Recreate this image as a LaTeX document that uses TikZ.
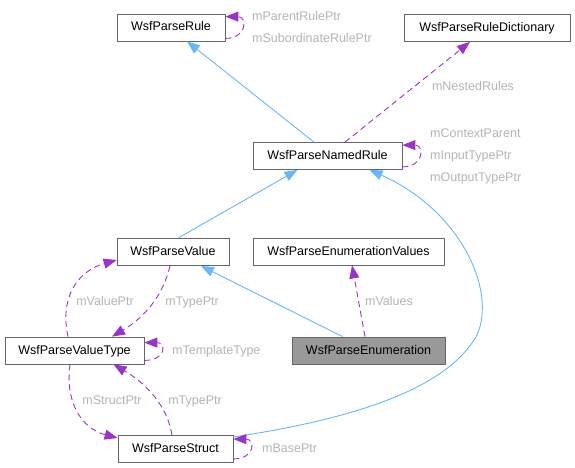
\documentclass[tikz,border=0pt]{standalone}
\usepackage{fontspec}
\setmainfont{Liberation Sans}
\usetikzlibrary{arrows.meta}

\definecolor{edgeblue}{HTML}{63B8FF}
\definecolor{edgepurple}{HTML}{9A32CD}
\definecolor{lblgray}{HTML}{B4B4B4}
\definecolor{boxgray}{HTML}{666666}
\definecolor{focusfill}{HTML}{999999}

\begin{document}
\begin{tikzpicture}[x=1pt, y=-1pt, >={Triangle[length=13pt,width=10pt]},
  cls/.style={draw=boxgray, line width=0.8pt, fill=white, minimum height=27pt,
    inner sep=0pt, text height=9.5pt, text depth=2.5pt,
    font=\fontsize{12.5}{14}\selectfont},
  focus/.style={cls, fill=focusfill},
  inherit/.style={edgeblue, line width=0.9pt, ->},
  usage/.style={edgepurple, line width=0.9pt, dash pattern=on 6pt off 4pt, ->},
  lbl/.style={lblgray, inner sep=0pt, text height=9.5pt, text depth=2.5pt,
    font=\fontsize{12.5}{14}\selectfont}]%

\useasboundingbox (0,0) rectangle (575,468);

\node [cls, minimum width=108pt] (rule) at (171,27.5) {WsfParseRule};
\node [cls, minimum width=166pt] (dict) at (487,28) {WsfParseRuleDictionary};
\node [cls, minimum width=149pt] (named) at (327.5,156) {WsfParseNamedRule};
\node [cls, minimum width=112pt] (value) at (173,252) {WsfParseValue};
\node [cls, minimum width=191pt] (enumvals) at (348.5,251.5) {WsfParseEnumerationValues};
\node [cls, minimum width=139pt] (valtype) at (74.5,350.5) {WsfParseValueType};
\node [focus, minimum width=153pt] (enum) at (368.5,350.5) {WsfParseEnumeration};
\node [cls, minimum width=115pt] (struct) at (175.5,449) {WsfParseStruct};

% inheritance
\draw [inherit] ([xshift=-13.5pt]named.north) -- ([xshift=16pt]rule.south);
\draw [inherit] ([xshift=5pt]value.north) -- ([xshift=-30pt]named.south);
\draw [inherit] ([xshift=-26pt]enum.north) -- ([xshift=28pt]value.south);
\draw [inherit] ([yshift=12pt]struct.east)
  .. controls (380,415) and (452,380) .. (477,335)
  .. controls (497,290) and (460,210) .. ([xshift=42pt]named.south);

% usage
\draw [usage] ([xshift=17.5pt]named.north) -- ([xshift=-17pt]dict.south);
\node [lbl] (nested) at (473,87) {mNestedRules};

\draw [usage] ([xshift=-3.5pt]enum.north) -- ([xshift=3.5pt]enumvals.south);
\node [lbl] (values) at (389,302) {mValues};

\draw [usage] ([xshift=-6.5pt]valtype.north)
  .. controls (60,300) and (75,272) .. ([yshift=-8pt]value.west);
\node [lbl] (valueptr) at (105,302) {mValuePtr};

\draw [usage] ([xshift=-3pt]value.south)
  .. controls (162,300) and (140,320) .. ([xshift=37.5pt]valtype.north);
\node [lbl] (typeptr-1) at (192,302) {mTypePtr};

\draw [usage] ([xshift=-4.5pt]valtype.south)
  .. controls (65,400) and (80,428) .. ([yshift=11pt]struct.west);
\node [lbl] (structptr) at (112,401) {mStructPtr};

\draw [usage] ([xshift=-3.5pt]struct.north)
  .. controls (166,400) and (140,380) .. ([xshift=39pt]valtype.south);
\node [lbl] (typeptr-2) at (195,401) {mTypePtr};

% self references
\foreach \n/\t/\b in {rule/3/3, named/3/3, valtype/6/4, struct/4/4}
  \draw [usage] ([yshift=\b pt]\n.south east) .. controls +(22,0) and +(22,0)
    .. ([yshift=-\t pt]\n.north east);

\node [lbl, anchor=west] (parentptr) at (252,17) {mParentRulePtr};
\node [lbl, anchor=west] (subptr) at (252,39) {mSubordinateRulePtr};

\foreach \l [count=\i] in {mContextParent, mInputTypePtr, mOutputTypePtr}
  \node [lbl, anchor=west] (named-\i) at (430,112+22*\i) {\l};

\node [lbl, anchor=west] (templtype) at (172,351) {mTemplateType};
\node [lbl, anchor=west] (baseptr) at (262,449) {mBasePtr};

\end{tikzpicture}
\end{document}
